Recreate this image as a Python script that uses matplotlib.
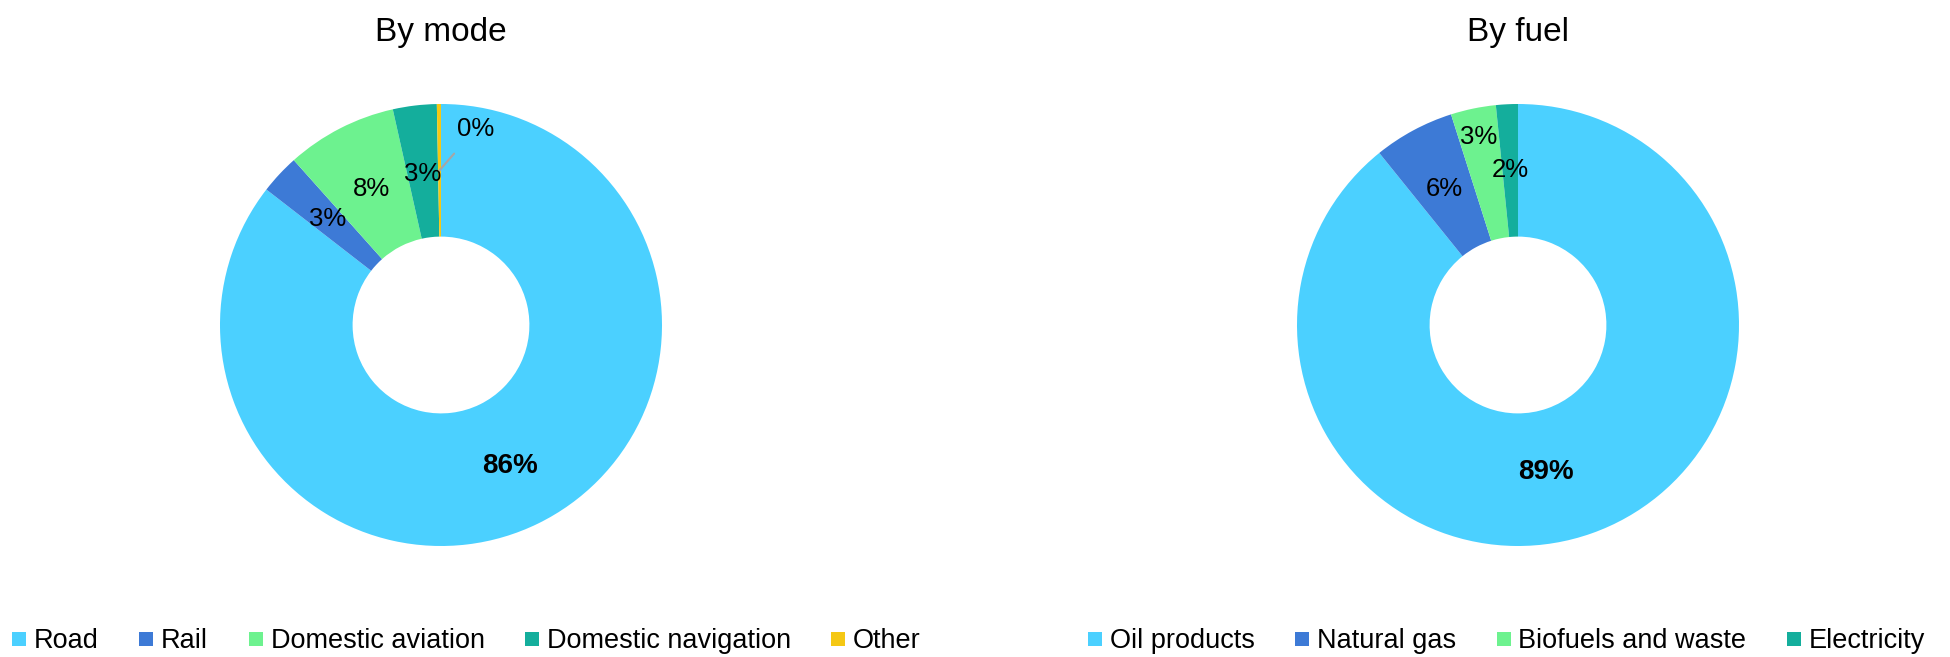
import numpy as np
import matplotlib.pyplot as plt
from matplotlib.lines import Line2D

plt.rcParams['font.family'] = ['Liberation Sans', 'DejaVu Sans']

# podil podle druhu dopravy
mode_labels = ['Road', 'Rail', 'Domestic aviation', 'Domestic navigation', 'Other']
mode_values = [85.5, 2.9, 8.1, 3.2, 0.3]
mode_colors = ['#4BD0FF', '#3D7AD6', '#6DF28F', '#14AE9C', '#F5C814']

# podil podle paliva
fuel_labels = ['Oil products', 'Natural gas', 'Biofuels and waste', 'Electricity']
fuel_values = [89.2, 5.9, 3.3, 1.6]
fuel_colors = ['#4BD0FF', '#3D7AD6', '#6DF28F', '#14AE9C']

W, H = 1950, 657
fig = plt.figure(figsize=(W / 100, H / 100), dpi=100)

R = 221  # polomer v pixelech


def donut(cx, cy, values, colors, title, lab_r, fixed=None):
    ax = fig.add_axes([(cx - R) / W, (H - cy - R) / H, 2 * R / W, 2 * R / H])
    ax.pie(values, colors=colors, startangle=90, counterclock=False,
           radius=1, wedgeprops=dict(width=0.6, linewidth=0))
    ax.set_xlim(-1, 1)
    ax.set_ylim(-1, 1)
    ax.set_aspect('equal')
    ax.axis('off')

    # popisky procent uvnitr prstence
    total = sum(values)
    start = 0.0
    for i, v in enumerate(values):
        mid = (start + v / 2) / total * 2 * np.pi
        start += v
        r = lab_r[i]
        if r is None:
            continue
        x, y = r * np.sin(mid), r * np.cos(mid)
        if fixed and i in fixed:
            x, y = fixed[i]
        ax.text(x, y, '%d%%' % round(v / total * 100), ha='center', va='center',
                fontsize=20 if i == 0 else 18.5,
                fontweight='bold' if i == 0 else 'normal',
                color='#000000')

    fig.text(cx / W, 1 - 32 / H, title, ha='center', va='center', fontsize=24)
    return ax


ax1 = donut(441, 325, mode_values, mode_colors, 'By mode', [0.71, 0.70, 0.69, 0.69, None])

# maly dil "Other" s odkazovou carou
frac = (sum(mode_values) - mode_values[-1] / 2) / sum(mode_values) * 2 * np.pi
ax1.annotate('%d%%' % round(mode_values[-1]), xy=(0.7 * np.sin(frac), 0.7 * np.cos(frac)),
             xytext=(0.155, 0.885), ha='center', va='center', fontsize=18.5,
             arrowprops=dict(arrowstyle='-', color='#A6A6A6', lw=1.5, shrinkA=9, shrinkB=0))

ax2 = donut(1518, 325, fuel_values, fuel_colors, 'By fuel', [0.71, 0.70, 0.87, 0.70],
            fixed={0: (0.127, -0.665)})

# legendy pod grafy
def legend(labels, colors, cx):
    handles = [Line2D([], [], marker='s', linestyle='none', markersize=10,
                      markerfacecolor=c, markeredgewidth=0) for c in colors]
    fig.legend(handles, labels, loc='center', bbox_to_anchor=(cx / W, 1 - 641 / H),
               ncol=len(labels), frameon=False, fontsize=19.5, handlelength=0.6,
               handletextpad=0.25, columnspacing=1.45, borderpad=0)


legend(mode_labels, mode_colors, 466)
legend(fuel_labels, fuel_colors, 1506)

plt.savefig('out.png', dpi=100)
